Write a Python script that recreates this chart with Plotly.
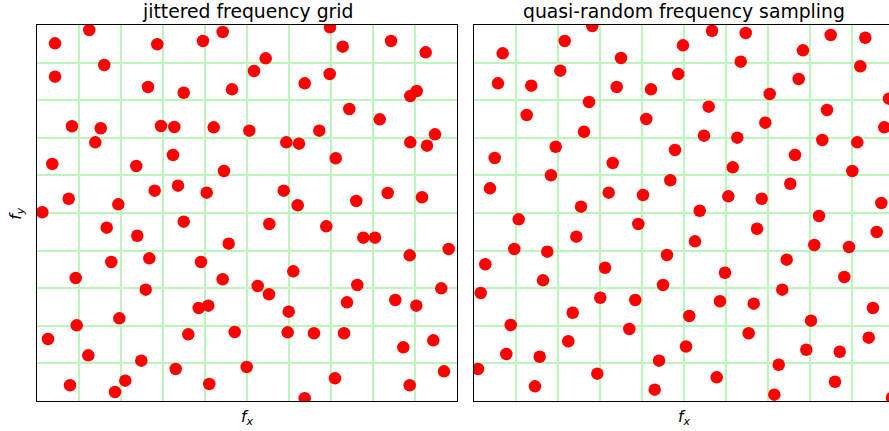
import plotly.graph_objects as go

# ---- data (normalised frequency coordinates, 0..1) ----
jit_fx = [0.1245, 0.0429, 0.2864, 0.3952, 0.4421, 0.1602, 0.0429, 0.2643, 0.3493, 0.4643,
          0.0833, 0.1517, 0.2952, 0.3269, 0.4207, 0.5055, 0.1388, 0.3238, 0.0364, 0.2364,
          0.4452, 0.3357, 0.2802, 0.4040, 0.0755, 0.1936, 0.0126,
          0.6976, 0.7279, 0.8429, 0.9255, 0.5445, 0.5167, 0.6969, 0.6374, 0.9040, 0.8888,
          0.7436, 0.8160, 0.6721, 0.5936, 0.6238, 0.8888, 0.9476, 0.9286, 0.7112, 0.5874,
          0.6207, 0.7602, 0.8350, 0.9167,
          0.1660, 0.2388, 0.3493, 0.4564, 0.1769, 0.2674, 0.3905, 0.0921, 0.4421, 0.2588,
          0.3850, 0.4079, 0.1960, 0.0945, 0.0262, 0.3602, 0.4707, 0.1221, 0.2483, 0.3302,
          0.4993, 0.0786, 0.2102, 0.1857, 0.4102,
          0.5531, 0.6888, 0.7769, 0.8048, 0.8874, 0.9802, 0.6102, 0.5255, 0.5524, 0.7626,
          0.9626, 0.7381, 0.8531, 0.9031, 0.5993, 0.5969, 0.6595, 0.7310, 0.8721, 0.9436,
          0.7095, 0.8874, 0.9690, 0.6374]
jit_fy = [0.9867, 0.9513, 0.9487, 0.9574, 0.9814, 0.8936, 0.8625, 0.8351, 0.8199, 0.8290,
          0.7306, 0.7253, 0.7314, 0.7287, 0.7279, 0.7189, 0.6880, 0.6543, 0.6303, 0.6250,
          0.6117, 0.5726, 0.5593, 0.5540, 0.5380, 0.5231, 0.5019,
          0.9939, 0.9423, 0.9574, 0.9274, 0.9114, 0.8777, 0.8697, 0.8449, 0.8245, 0.8112,
          0.7766, 0.7492, 0.7189, 0.6880, 0.6843, 0.6880, 0.7093, 0.6790, 0.6455, 0.5593,
          0.5205, 0.5319, 0.5532, 0.5418,
          0.4609, 0.4396, 0.4769, 0.4184, 0.3697, 0.3795, 0.3697, 0.3271, 0.3237, 0.2960,
          0.2473, 0.2535, 0.2199, 0.2013, 0.1649, 0.1774, 0.1835, 0.1215, 0.1072, 0.0851,
          0.0904, 0.0418, 0.0540, 0.0239, 0.0452,
          0.4707, 0.4646, 0.4343, 0.4343, 0.3875, 0.4043, 0.3449, 0.3059, 0.2838, 0.3085,
          0.2997, 0.2625, 0.2686, 0.2535, 0.2375, 0.1827, 0.1801, 0.1801, 0.1428, 0.1614,
          0.0604, 0.0418, 0.0790, 0.0072]

qr_fx = [0.2817, 0.2160, 0.0683, 0.3500, 0.4976, 0.2055, 0.0571, 0.1364, 0.3398, 0.4214,
         0.4864, 0.2738, 0.1255, 0.4102, 0.2619, 0.1945, 0.0493, 0.3302, 0.4786, 0.1833,
         0.0381, 0.3207, 0.4024, 0.4674, 0.2548,
         0.5667, 0.6469, 0.8493, 0.9317, 0.7833, 0.6350, 0.9198, 0.7731, 0.7040, 0.9880,
         0.5588, 0.8405, 0.6936, 0.9769, 0.5476, 0.6269, 0.8293, 0.9126, 0.7643, 0.6160,
         0.9007, 0.7531, 0.6055, 0.6850, 0.9698, 0.5374,
         0.1064, 0.3912, 0.2436, 0.0960, 0.1745, 0.0269, 0.3119, 0.4595, 0.1643, 0.0160,
         0.3007, 0.3840, 0.4500, 0.2350, 0.5126, 0.0874, 0.3698, 0.2245, 0.0769, 0.1564,
         0.5048, 0.0095, 0.2936, 0.4405, 0.1452, 0.4302,
         0.8214, 0.6738, 0.9588, 0.5262, 0.8102, 0.8929, 0.7445, 0.5976, 0.8817, 0.7340,
         0.5857, 0.6660, 0.9500, 0.8024, 0.6540, 0.9398, 0.7912, 0.8707, 0.7255, 0.5779,
         0.8595, 0.7150, 0.9952]
qr_fy = [0.9973, 0.9574, 0.9247, 0.9122, 0.9460, 0.8785, 0.8449, 0.8386, 0.8351, 0.8290,
         0.8697, 0.7952, 0.7606, 0.7500, 0.7162, 0.6763, 0.6463, 0.6330, 0.6676, 0.6003,
         0.5657, 0.5540, 0.5479, 0.5870, 0.5168,
         0.9848, 0.9787, 0.9734, 0.9662, 0.9327, 0.9024, 0.8902, 0.8564, 0.8165, 0.8040,
         0.7827, 0.7739, 0.7402, 0.7279, 0.7056, 0.7003, 0.6941, 0.6880, 0.6543, 0.6215,
         0.6117, 0.5779, 0.5444, 0.5380, 0.5266, 0.5061,
         0.4832, 0.4707, 0.4370, 0.4043, 0.3971, 0.3636, 0.3545, 0.3883, 0.3210, 0.2872,
         0.2747, 0.2686, 0.3085, 0.2348, 0.2261, 0.2021, 0.1915, 0.1588, 0.1250, 0.1178,
         0.1449, 0.0851, 0.0726, 0.1072, 0.0391, 0.0301,
         0.4920, 0.4582, 0.4495, 0.4247, 0.4149, 0.4096, 0.3758, 0.3412, 0.3298, 0.2960,
         0.2652, 0.2588, 0.2473, 0.2136, 0.1801, 0.1684, 0.1364, 0.1311, 0.0965, 0.0630,
         0.0513, 0.0168, 0.0088]

titles = ["jittered frequency grid", "quasi-random frequency sampling"]
xlabel = "<i>f</i><sub><i>x</i></sub>"
ylabel = "<i>f</i><sub><i>y</i></sub>"

# ---- figure ----
W, H = 889, 431
ML, MT, MB = 37, 25, 30
plot_w = W - ML
panel_w = 420
gap = 17

fig = go.Figure()
marker = dict(color="#ff0000", size=12.5, line=dict(width=0))
fig.add_trace(go.Scatter(x=jit_fx, y=jit_fy, mode="markers", marker=marker,
                         xaxis="x", yaxis="y", showlegend=False, hoverinfo="skip"))
fig.add_trace(go.Scatter(x=qr_fx, y=qr_fy, mode="markers", marker=marker,
                         xaxis="x2", yaxis="y2", showlegend=False, hoverinfo="skip"))

grid = dict(showgrid=True, gridcolor="#bdf5bd", gridwidth=1.5, dtick=0.1, tick0=0,
            showticklabels=False, ticks="", zeroline=False,
            showline=True, linecolor="black", linewidth=1)

d1 = [0, panel_w / plot_w]
d2 = [(panel_w + gap) / plot_w, 1]
vis_right = (plot_w - panel_w - gap) / panel_w

fig.update_layout(
    width=W, height=H,
    margin=dict(l=ML, r=0, t=MT, b=MB, pad=0),
    paper_bgcolor="white", plot_bgcolor="white",
    font=dict(family="DejaVu Sans", color="black"),
    xaxis=dict(domain=d1, range=[0, 1], mirror=True, **grid),
    yaxis=dict(domain=[0, 1], range=[0, 1], mirror=True, **grid),
    xaxis2=dict(domain=d2, range=[0, vis_right], mirror=True, anchor="y2", **grid),
    yaxis2=dict(domain=[0, 1], range=[0, 1], mirror=False, anchor="x2", **grid),
)

ann = []
for i, t in enumerate(titles):
    ann.append(dict(text=t, xref="x" if i == 0 else "x2", x=0.5, yref="paper", y=1.036,
                    yanchor="middle", xanchor="center", showarrow=False,
                    font=dict(size=18.8, family="DejaVu Sans", color="black")))
    ann.append(dict(text=xlabel, xref="x" if i == 0 else "x2", x=0.5, yref="paper", y=-0.045,
                    yanchor="middle", xanchor="center", showarrow=False,
                    font=dict(size=15.7, family="DejaVu Sans", color="black")))
ann.append(dict(text=ylabel, xref="paper", x=-0.025, xanchor="center", yref="paper", y=0.5,
                yanchor="middle", textangle=-90, showarrow=False,
                font=dict(size=15.7, family="DejaVu Sans", color="black")))
fig.update_layout(annotations=ann)

fig.write_html("out.html")
